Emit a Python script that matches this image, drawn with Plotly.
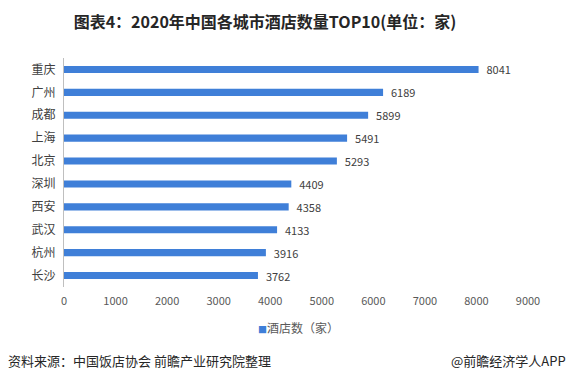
import plotly.graph_objects as go

cities = ["重庆", "广州", "成都", "上海", "北京", "深圳", "西安", "武汉", "杭州", "长沙"]
hotels = [8041, 6189, 5899, 5491, 5293, 4409, 4358, 4133, 3916, 3762]
x_ticks = [0, 1000, 2000, 3000, 4000, 5000, 6000, 7000, 8000, 9000]

title_text = "图表4：2020年中国各城市酒店数量TOP10(单位：家)"
series_name = "酒店数（家）"
source_text = "资料来源：中国饭店协会 前瞻产业研究院整理"
brand_text = "@前瞻经济学人APP"

FONT = "Microsoft YaHei, Noto Sans CJK SC, sans-serif"
BAR = "#3f7fd8"

fig = go.Figure()
fig.add_trace(go.Bar(
    y=cities, x=hotels, orientation="h", name=series_name,
    marker=dict(color=BAR, line=dict(width=0)),
    text=[f"{v}" for v in hotels], texttemplate="\u00a0\u00a0%{text}",
    textposition="outside",
    textfont=dict(size=11, color="#404040", family=FONT),
    constraintext="none", cliponaxis=False, showlegend=False,
))

W, H = 571, 382
ml, mr, mt, mb = 64, 43, 57.5, 94.5
pw, ph = W - ml - mr, H - mt - mb

def px_x(px):
    return (px - ml) / pw

def px_y(py):
    return (H - mb - py) / ph

fig.update_layout(
    width=W, height=H,
    margin=dict(l=ml, r=mr, t=mt, b=mb),
    paper_bgcolor="white", plot_bgcolor="white",
    font=dict(family=FONT, color="#404040"),
    title=dict(text=f"<b>{title_text}</b>", x=265 / W, xref="container", xanchor="center",
               y=1 - 22 / H, yref="container", yanchor="middle",
               font=dict(size=16, color="#262626", family=FONT)),
    bargap=0.69,
    showlegend=False,
    xaxis=dict(range=[0, 9000], tickvals=x_ticks, showgrid=False, zeroline=False,
               showline=False, ticks="", tickfont=dict(size=11, color="#595959"),
               ticklabelstandoff=6, fixedrange=True),
    yaxis=dict(categoryorder="array", categoryarray=cities[::-1], autorange=True,
               showline=True, linecolor="#bfbfbf", linewidth=1, ticks="",
               showgrid=False, tickfont=dict(size=12, color="#404040"),
               ticklabelstandoff=5, fixedrange=True),
    annotations=[
        dict(text=f"<span style='color:{BAR};font-size:9px'>■</span>{series_name}",
             x=px_x(256), y=px_y(328), xref="paper", yref="paper",
             xanchor="left", yanchor="middle", showarrow=False,
             font=dict(size=12, color="#595959", family=FONT)),
        dict(text=source_text, x=px_x(6), y=px_y(361), xref="paper", yref="paper",
             xanchor="left", yanchor="middle", showarrow=False,
             font=dict(size=13, color="#262626", family=FONT)),
        dict(text=brand_text, x=px_x(568), y=px_y(361), xref="paper", yref="paper",
             xanchor="right", yanchor="middle", showarrow=False,
             font=dict(size=13, color="#262626", family=FONT)),
    ],
)

fig.write_html("out.html", config={"displayModeBar": False},
               post_script="document.body.style.margin='0';document.body.style.overflow='hidden';")
